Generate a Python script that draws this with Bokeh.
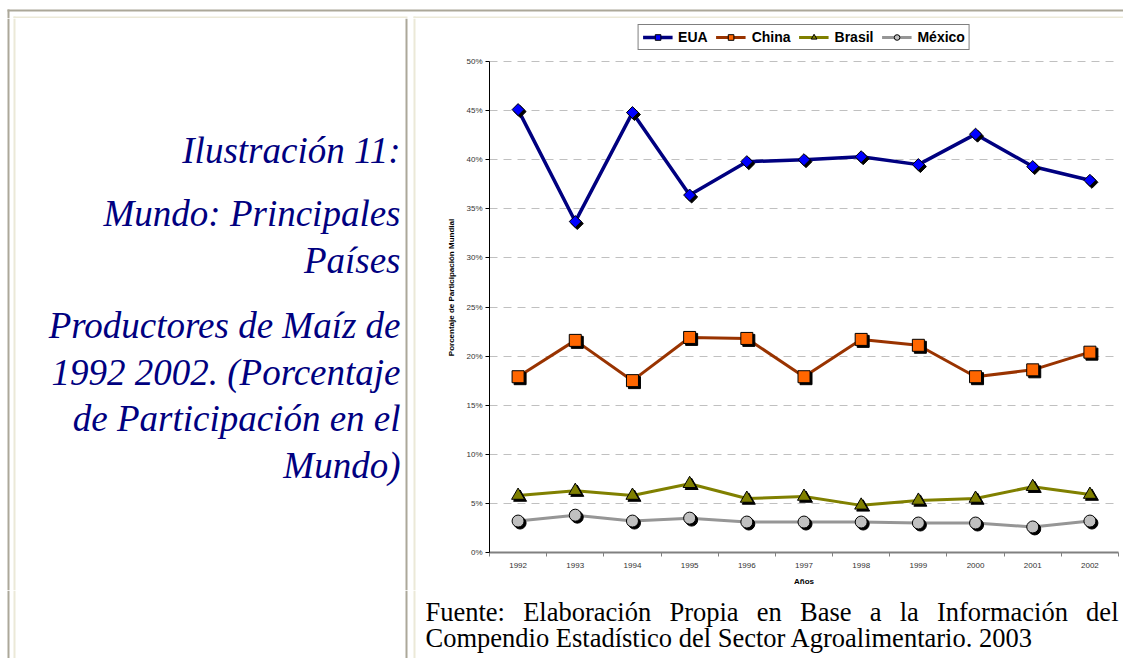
from bokeh.plotting import figure
from bokeh.models import (Range1d, FixedTicker, PrintfTickFormatter, Legend,
                          LegendItem, ColumnDataSource)
from bokeh.layouts import column, row
from bokeh.transform import dodge
from bokeh.core.properties import value
from bokeh.embed import file_html
from bokeh.resources import INLINE

# ---------------- data ----------------
years = [1992, 1993, 1994, 1995, 1996, 1997, 1998, 1999, 2000, 2001, 2002]
eua = [45.1, 33.7, 44.8, 36.4, 39.8, 40.0, 40.3, 39.5, 42.6, 39.3, 37.9]
china = [17.9, 21.6, 17.5, 21.9, 21.8, 17.9, 21.7, 21.1, 17.9, 18.6, 20.4]
brasil = [5.8, 6.3, 5.8, 7.0, 5.5, 5.7, 4.8, 5.3, 5.5, 6.7, 5.9]
mexico = [3.2, 3.8, 3.2, 3.5, 3.1, 3.1, 3.1, 3.0, 3.0, 2.6, 3.2]
series_names = ["EUA", "China", "Brasil", "México"]
y_ticks = [0, 5, 10, 15, 20, 25, 30, 35, 40, 45, 50]
x_label = "Años"
y_label = "Porcentaje de Participación Mundial"
title_lines = ["Ilustración 11:", "Mundo: Principales", "Países",
               "Productores de Maíz de", "1992 2002. (Porcentaje",
               "de Participación en el", "Mundo)"]
footer_words_1 = ["Fuente:", "Elaboración", "Propia", "en", "Base", "a", "la",
                  "Información", "del"]
footer_line_2 = "Compendio Estadístico del Sector Agroalimentario. 2003"

# ---------------- helpers ----------------
GRAY = "#aca899"
LIGHT = "#ece9d8"
W, H = 1123, 658


def canvas(w, h):
    f = figure(width=w, height=h, x_range=Range1d(0, w), y_range=Range1d(h, 0),
               output_backend="svg", toolbar_location=None, min_border=0,
               x_axis_type=None, y_axis_type=None, outline_line_color=None,
               background_fill_color="white", border_fill_color="white")
    f.grid.visible = False
    return f


def cell_verticals(f, h):
    f.quad(left=[7], right=[9], top=[0], bottom=[h], color=GRAY, line_color=None)
    f.quad(left=[13, 413], right=[15, 415], top=[0, 0], bottom=[h, h],
           color=LIGHT, line_color=None)
    f.quad(left=[405], right=[407], top=[0], bottom=[h], color=GRAY, line_color=None)


# top strip (page y 0..18)
top = canvas(W, 18)
top.quad(left=[7], right=[W], top=[9], bottom=[11], color=GRAY, line_color=None)
top.quad(left=[7], right=[9], top=[9], bottom=[18], color=GRAY, line_color=None)
top.quad(left=[13, 413], right=[407, W], top=[16, 16], bottom=[18, 18],
         color=LIGHT, line_color=None)
top.quad(left=[13, 413], right=[15, 415], top=[16, 16], bottom=[18, 18],
         color=LIGHT, line_color=None)

# ---------------- chart ----------------
LW = 416
CW, CH = W - LW, 572
frame_top, frame_bottom, axis_top = 22, 552, 61   # page y of frame edges / 50% line
y_end = y_ticks[-1] * (frame_bottom - frame_top) / (frame_bottom - axis_top)

# left cell (page x 0..416, y 18..590)
left = canvas(LW, CH)
cell_verticals(left, CH)
title_y = [132, 195, 242, 307, 354, 400, 447]
left.text(x=[400] * len(title_lines), y=title_y, text=title_lines,
          text_font=value("Liberation Serif"), text_font_style="italic",
          text_font_size="37px", text_color="#000080", text_align="right",
          text_baseline="middle")

p = figure(width=CW, height=CH, x_range=Range1d(1991.5, 2002.5),
           y_range=Range1d(0, y_end), output_backend="svg", toolbar_location=None,
           min_border_left=73, min_border_right=5, min_border_top=frame_top - 18,
           min_border_bottom=18 + CH - frame_bottom, outline_line_color=None,
           background_fill_color="white", border_fill_color="white")

src = ColumnDataSource(dict(x=years, EUA=eua, China=china, Brasil=brasil,
                            Mexico=mexico))

styles = [
    ("EUA", "EUA", "#000080", "#0000ff", "square", 8.5, 0.785398, 3.5),
    ("China", "China", "#993300", "#ff6600", "square", 12, 0.0, 3),
    ("Brasil", "Brasil", "#808000", "#808000", "triangle", 13, 0.0, 3),
    ("Mexico", "México", "#969696", "#c0c0c0", "circle", 12, 0.0, 3),
]

items = []
for col, name, lc, fc, mk, sz, ang, lw in styles:
    lr = p.line(x="x", y=col, source=src, line_color=lc, line_width=lw)
    p.scatter(x=dodge("x", 0.035), y=dodge(col, -0.2), source=src, marker=mk,
              size=sz, angle=ang, fill_color="black", line_color="black")
    mr = p.scatter(x="x", y=col, source=src, marker=mk, size=sz, angle=ang,
                   fill_color=fc, line_color="black", line_width=1)
    items.append(LegendItem(label=name, renderers=[lr, mr]))

legend = Legend(items=items, orientation="horizontal", location="top_center",
                label_text_font="Liberation Sans", label_text_font_style="bold",
                label_text_font_size="14px", label_text_color="black",
                border_line_color="black", border_line_width=1,
                background_fill_color="white", background_fill_alpha=1,
                padding=4, spacing=8, label_standoff=6, glyph_width=30,
                glyph_height=14, label_height=14, margin=2)
p.add_layout(legend, "center")

# axes
p.xaxis.ticker = FixedTicker(ticks=years,
                             minor_ticks=[y - 0.5 for y in years] + [years[-1] + 0.5])
p.xaxis.major_label_overrides = {y: str(y) for y in years}
p.xaxis.major_tick_out = 0
p.xaxis.major_tick_in = 0
p.xaxis.minor_tick_out = 4
p.xaxis.minor_tick_in = 0
p.xaxis.minor_tick_line_color = "#808080"
p.xaxis.axis_line_color = "#808080"
p.xaxis.axis_line_width = 2
p.xaxis.major_label_standoff = 6
p.xaxis.axis_label = x_label
p.xaxis.axis_label_standoff = 6

p.yaxis.ticker = FixedTicker(ticks=y_ticks)
p.yaxis.bounds = (y_ticks[0], y_ticks[-1])
p.yaxis.formatter = PrintfTickFormatter(format="%d%%")
p.yaxis.major_tick_out = 4
p.yaxis.major_tick_in = 0
p.yaxis.minor_tick_out = 0
p.yaxis.minor_tick_in = 0
p.yaxis.axis_line_color = "black"
p.yaxis.major_tick_line_color = "black"
p.yaxis.major_label_standoff = 3
p.yaxis.axis_label = y_label
p.yaxis.axis_label_standoff = 7

for ax in (p.xaxis, p.yaxis):
    ax.major_label_text_font = "Liberation Sans"
    ax.major_label_text_font_size = "8px"
    ax.major_label_text_color = "#333333"
    ax.axis_label_text_font = "Liberation Sans"
    ax.axis_label_text_font_size = "8px"
    ax.axis_label_text_font_style = "bold"
    ax.axis_label_text_color = "black"

p.xgrid.visible = False
p.ygrid.ticker = FixedTicker(ticks=y_ticks[1:])
p.ygrid.grid_line_color = "#c0c0c0"
p.ygrid.grid_line_dash = "8 6"
p.ygrid.grid_line_width = 1

# ---------------- footer strip (page y 590..658), justified first line ----------------
FH = H - 18 - CH
FS = 26.5
TIMES_W = {"F": .556, "u": .5, "e": .444, "n": .5, "t": .278, ":": .278,
           "E": .611, "l": .278, "a": .444, "b": .5, "o": .5, "r": .333,
           "c": .444, "i": .278, "ó": .5, "P": .556, "p": .5, "B": .667,
           "s": .389, "I": .333, "f": .333, "m": .778, "d": .5}


def text_w(s):
    return sum(TIMES_W.get(ch, .5) for ch in s) * FS


x0, x1 = 425, 1118
widths = [text_w(w_) for w_ in footer_words_1]
gap = (x1 - x0 - sum(widths)) / (len(footer_words_1) - 1)
word_x = []
cur = x0
for wd in widths:
    word_x.append(cur)
    cur += wd + gap

foot = canvas(W, FH)
cell_verticals(foot, FH)
foot.text(x=word_x, y=[21] * len(footer_words_1), text=footer_words_1,
          text_font=value("Liberation Serif"), text_font_size=f"{FS}px",
          text_color="black", text_align="left", text_baseline="alphabetic")
foot.text(x=[x0], y=[47], text=[footer_line_2],
          text_font=value("Liberation Serif"), text_font_size=f"{FS}px",
          text_color="black", text_align="left", text_baseline="alphabetic")

layout = column(top, row(left, column(p)), foot)

open("out.html", "w").write(file_html(layout, INLINE))
